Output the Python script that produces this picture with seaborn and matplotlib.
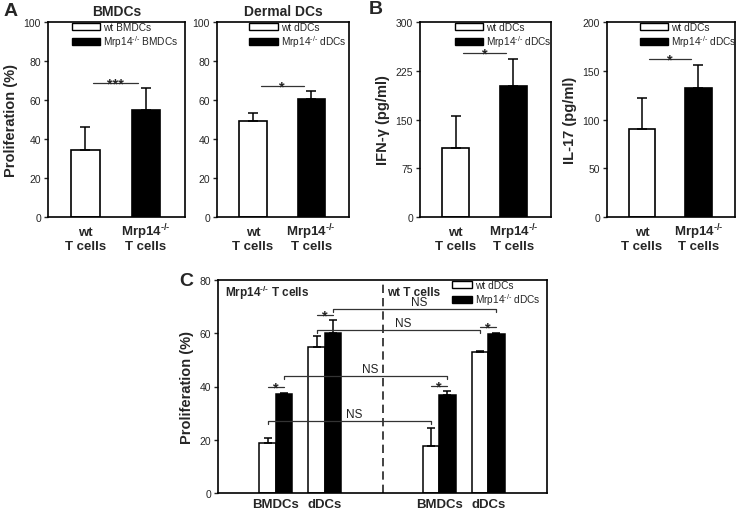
"""
Figura de proliferação e citocinas (Mrp14-/- vs wt).
Painéis A, B e C redesenhados com seaborn.
"""

import matplotlib
matplotlib.use("Agg")
import matplotlib.pyplot as plt
from matplotlib.patches import Patch
import pandas as pd
import seaborn as sns

sns.set_theme(style="ticks")
plt.rcParams["font.family"] = ["Liberation Sans", "DejaVu Sans"]
plt.rcParams["mathtext.default"] = "regular"

KO = "Mrp14$^{\u2010/\u2010}$"

# Painéis A e B
T_CELLS = ["wt", KO]
BMDC_LABELS = ["wt BMDCs", KO + " BMDCs"]
DDC_LABELS = ["wt dDCs", KO + " dDCs"]
BMDC_PROLIF = [34.5, 54.9]
BMDC_PROLIF_ERR = [11.8, 11.3]
DDC_PROLIF = [49.4, 60.3]
DDC_PROLIF_ERR = [3.9, 4.3]
IFNG = [106.6, 201.5]
IFNG_ERR = [48.2, 42.0]
IL17 = [90.6, 132.3]
IL17_ERR = [31.5, 23.6]

# Painel C
C_TCELLS = [KO + " T cells", KO + " T cells", "wt T cells", "wt T cells"]
C_DC_TYPES = ["BMDCs", "dDCs", "BMDCs", "dDCs"]
C_WT_DC = [18.8, 54.7, 17.8, 53.1]
C_WT_DC_ERR = [1.7, 4.2, 6.6, 0.3]
C_KO_DC = [37.2, 60.1, 36.8, 59.7]
C_KO_DC_ERR = [0.3, 5.0, 1.6, 0.4]

# layout
W, H = 740, 510
CORES = ["white", "black"]
C_POS = [0, 1, 3.33, 4.33]


def rect(x0, y0, x1, y1):
    return [x0 / W, 1 - y1 / H, (x1 - x0) / W, (y1 - y0) / H]


def estilo_eixo(ax):
    for s in ax.spines.values():
        s.set_visible(True)
        s.set_color("black")
        s.set_linewidth(1.2)
    ax.tick_params(axis="y", direction="out", length=3, width=1, labelsize=7.5, pad=2)
    ax.tick_params(axis="x", length=0, labelbottom=False)


def rotulos_x(ax, xs, linhas, ys, size=9.5):
    trans = ax.get_xaxis_transform()
    for x, linha in zip(xs, linhas):
        for txt, y in zip(linha, ys):
            ax.text(x, y, txt, transform=trans, ha="center", va="baseline",
                    fontsize=size, fontweight="bold", clip_on=False)


def legenda(ax, rotulos, x, hl=2.8):
    handles = [Patch(facecolor=c, edgecolor="black", linewidth=1) for c in CORES]
    ax.legend(handles, rotulos, loc="upper left", bbox_to_anchor=(x, 1.01),
              frameon=False, fontsize=7.3, handlelength=hl, handleheight=0.7,
              labelspacing=0.1, handletextpad=0.3, borderpad=0.2, borderaxespad=0)


def sig_linha(ax, x0, x1, y, txt):
    ax.plot([x0, x1], [y, y], color="#333333", lw=0.9)
    ax.annotate(txt, ((x0 + x1) / 2, y), xytext=(0, -3.2), textcoords="offset points",
                ha="center", va="baseline", fontsize=10.5, fontweight="bold")


def painel_simples(fig, r, valores, erros, rotulos, ylim, ystep, ylabel, titulo, sig, leg_x):
    ax = fig.add_axes(r)
    df = pd.DataFrame({"tcell": T_CELLS, "grupo": rotulos, "valor": valores})
    sns.barplot(data=df, x="tcell", y="valor", hue="grupo", palette=CORES,
                dodge=False, width=0.47, edgecolor="black", linewidth=1.2,
                errorbar=None, legend=False, ax=ax)
    ax.errorbar(range(len(valores)), valores, yerr=[[0] * len(erros), erros],
                fmt="none", ecolor="black", elinewidth=1.1, capsize=3.5, capthick=1.1, zorder=1)
    ax.set_xlim(-0.62, 1.65)
    ax.set_ylim(0, ylim)
    ax.set_yticks(range(0, ylim + 1, ystep))
    ax.set_xlabel("")
    ax.set_ylabel(ylabel, fontsize=10.5, fontweight="bold", labelpad=4)
    if titulo:
        ax.set_title(titulo, fontsize=10, fontweight="bold", pad=5)
    sig_linha(ax, 0.13, 0.87, ylim * sig[0], sig[1])
    estilo_eixo(ax)
    rotulos_x(ax, range(len(T_CELLS)), [[t, "T cells"] for t in T_CELLS], [-0.092, -0.163])
    legenda(ax, rotulos, leg_x)
    return ax


def painel_c(fig):
    ax = fig.add_axes(rect(218, 281, 547, 494))
    df = pd.DataFrame({
        "pos": C_POS + C_POS,
        "dc": [DDC_LABELS[0]] * 4 + [DDC_LABELS[1]] * 4,
        "valor": C_WT_DC + C_KO_DC,
    })
    sns.barplot(data=df, x="pos", y="valor", hue="dc", hue_order=DDC_LABELS,
                palette=CORES, native_scale=True, width=0.67, edgecolor="black",
                linewidth=1.1, errorbar=None, legend=False, ax=ax)

    barras = sorted(ax.patches, key=lambda p: p.get_x())
    xs = [p.get_x() + p.get_width() / 2 for p in barras]
    tops = [p.get_height() for p in barras]
    erros = [e for par in zip(C_WT_DC_ERR, C_KO_DC_ERR) for e in par]
    ax.errorbar(xs, tops, yerr=[[0] * len(erros), erros], fmt="none",
                ecolor="black", elinewidth=1.1, capsize=3, capthick=1.1, zorder=1)

    ax.axvline(2.18, color="#222222", lw=1.2, ls=(0, (5, 3)))
    ax.set_xlim(-1.18, 5.53)
    ax.set_ylim(0, 80)
    ax.set_yticks(range(0, 81, 20))
    ax.set_xticks(C_POS)
    ax.set_xlabel("")
    ax.set_ylabel("Proliferation (%)", fontsize=10.5, fontweight="bold", labelpad=4)

    # asteriscos entre pares
    for i, j, y in [(0, 1, 39.7), (2, 3, 67.0), (4, 5, 40.3), (6, 7, 62.5)]:
        sig_linha(ax, xs[i], xs[j], y, "*")

    # comparações NS
    for i, j, y in [(3, 7, 69.1), (2, 6, 61.2), (1, 5, 44.1), (0, 4, 27.2)]:
        ax.plot([xs[i], xs[i], xs[j], xs[j]], [y - 1.2, y, y, y - 1.2],
                color="#333333", lw=0.9)
        ax.text((xs[i] + xs[j]) / 2 + 0.1, y + 0.3, "NS", ha="center",
                va="bottom", fontsize=8.5, color="#222222")

    ax.text(0.02, 0.945, KO + " T cells", transform=ax.transAxes, fontsize=8.5,
            fontweight="bold", va="center", ha="left")
    ax.text(0.514, 0.945, "wt T cells", transform=ax.transAxes, fontsize=8.5,
            fontweight="bold", va="center", ha="left")
    estilo_eixo(ax)
    rotulos_x(ax, C_POS, [[t] for t in C_DC_TYPES], [-0.064], size=9.5)
    legenda(ax, DDC_LABELS, 0.705, hl=2.0)
    return ax


def main():
    fig = plt.figure(figsize=(W / 100, H / 100), dpi=100)

    painel_simples(fig, rect(48, 23, 185, 218), BMDC_PROLIF, BMDC_PROLIF_ERR,
                   BMDC_LABELS, 100, 20, "Proliferation (%)", "BMDCs",
                   (0.685, "***"), 0.16)
    painel_simples(fig, rect(217, 23, 349, 218), DDC_PROLIF, DDC_PROLIF_ERR,
                   DDC_LABELS, 100, 20, "", "Dermal DCs", (0.672, "*"), 0.23)
    painel_simples(fig, rect(420, 23, 551, 218), IFNG, IFNG_ERR,
                   DDC_LABELS, 300, 75, "IFN-γ (pg/ml)", None, (0.841, "*"), 0.25)
    painel_simples(fig, rect(607, 23, 735, 218), IL17, IL17_ERR,
                   DDC_LABELS, 200, 50, "IL-17 (pg/ml)", None, (0.808, "*"), 0.24)
    painel_c(fig)

    for letra, x, y in [("A", 11, 12), ("B", 376, 10), ("C", 186, 281)]:
        fig.text(x / W, 1 - y / H, letra, fontsize=14, fontweight="bold",
                 ha="center", va="center")

    fig.savefig("out.png", dpi=100)
    plt.close(fig)


if __name__ == "__main__":
    main()
